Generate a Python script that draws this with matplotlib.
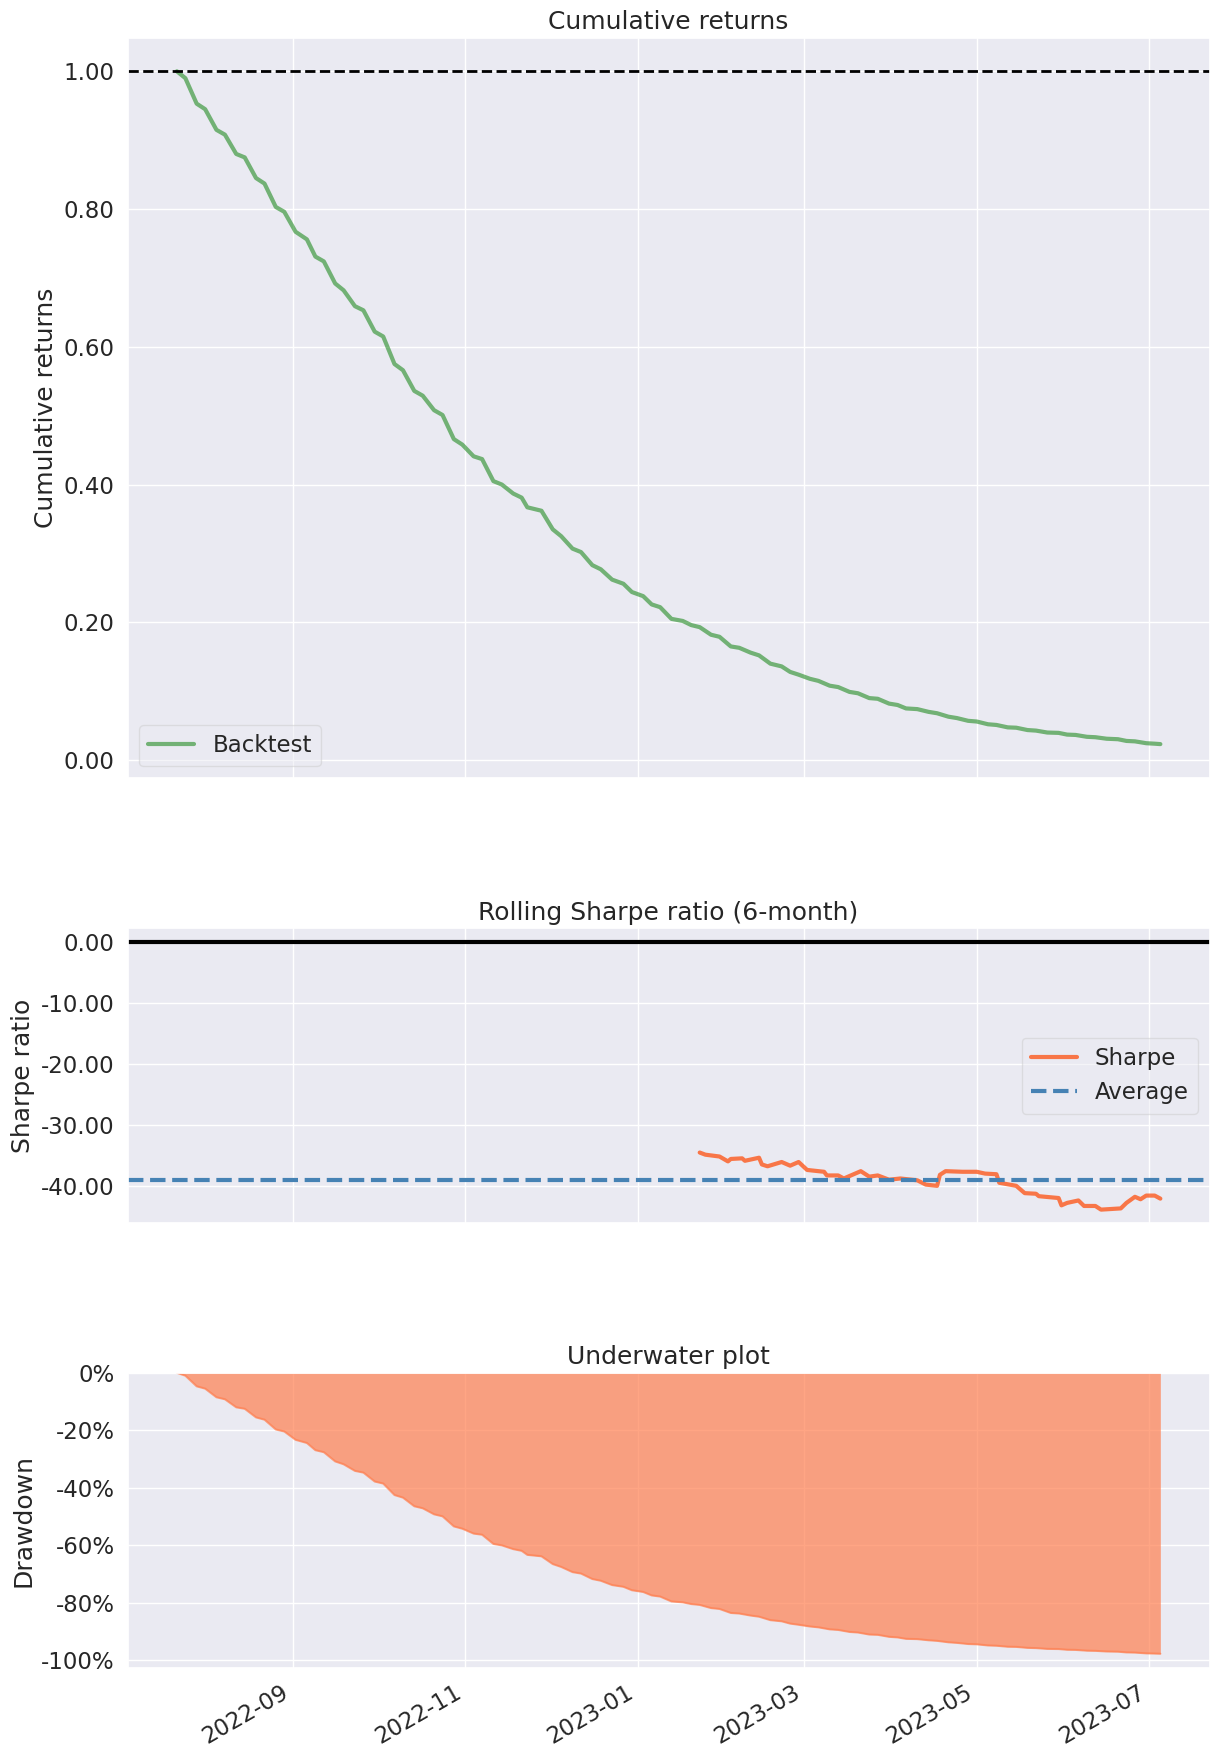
import matplotlib
matplotlib.use('Agg')
import matplotlib.pyplot as plt
import matplotlib.dates as mdates
from matplotlib.ticker import FuncFormatter
import numpy as np
import pandas as pd
import seaborn as sns

# ---------------- data ----------------
cum_dates = [
    "2022-07-22", "2022-07-25", "2022-07-29", "2022-08-01", "2022-08-05", "2022-08-08",
    "2022-08-12", "2022-08-15", "2022-08-19", "2022-08-22", "2022-08-26", "2022-08-29",
    "2022-09-02", "2022-09-06", "2022-09-09", "2022-09-12", "2022-09-16", "2022-09-19",
    "2022-09-23", "2022-09-26", "2022-09-30", "2022-10-03", "2022-10-07", "2022-10-10",
    "2022-10-14", "2022-10-17", "2022-10-21", "2022-10-24", "2022-10-28", "2022-10-31",
    "2022-11-04", "2022-11-07", "2022-11-11", "2022-11-14", "2022-11-18", "2022-11-21",
    "2022-11-23", "2022-11-25", "2022-11-28", "2022-12-02", "2022-12-05", "2022-12-09",
    "2022-12-12", "2022-12-16", "2022-12-19", "2022-12-23", "2022-12-27", "2022-12-30",
    "2023-01-03", "2023-01-06", "2023-01-09", "2023-01-13", "2023-01-17", "2023-01-20",
    "2023-01-23", "2023-01-27", "2023-01-30", "2023-02-03", "2023-02-06", "2023-02-10",
    "2023-02-13", "2023-02-17", "2023-02-21", "2023-02-24", "2023-02-27", "2023-03-03",
    "2023-03-06", "2023-03-10", "2023-03-13", "2023-03-17", "2023-03-20", "2023-03-24",
    "2023-03-27", "2023-03-31", "2023-04-03", "2023-04-06", "2023-04-10", "2023-04-14",
    "2023-04-17", "2023-04-21", "2023-04-24", "2023-04-28", "2023-05-01", "2023-05-05",
    "2023-05-08", "2023-05-12", "2023-05-15", "2023-05-19", "2023-05-22", "2023-05-26",
    "2023-05-30", "2023-06-02", "2023-06-05", "2023-06-09", "2023-06-12", "2023-06-16",
    "2023-06-20", "2023-06-23", "2023-06-26", "2023-06-30", "2023-07-03", "2023-07-05",
]
cum_values = [
    1.000, 0.990, 0.953, 0.945, 0.915, 0.908,
    0.880, 0.875, 0.845, 0.837, 0.803, 0.796,
    0.767, 0.756, 0.731, 0.724, 0.692, 0.682,
    0.659, 0.653, 0.622, 0.615, 0.575, 0.566,
    0.536, 0.529, 0.508, 0.501, 0.466, 0.458,
    0.441, 0.437, 0.405, 0.400, 0.387, 0.381,
    0.367, 0.365, 0.362, 0.335, 0.325, 0.307,
    0.302, 0.283, 0.277, 0.262, 0.256, 0.244,
    0.238, 0.226, 0.222, 0.205, 0.202, 0.196,
    0.193, 0.182, 0.179, 0.165, 0.163, 0.156,
    0.152, 0.140, 0.136, 0.128, 0.124, 0.118,
    0.115, 0.108, 0.106, 0.099, 0.097, 0.090,
    0.089, 0.082, 0.080, 0.075, 0.074, 0.070,
    0.068, 0.063, 0.061, 0.057, 0.056, 0.052,
    0.051, 0.0475, 0.047, 0.0436, 0.0428, 0.040,
    0.0395, 0.037, 0.0365, 0.0338, 0.0332, 0.031,
    0.0303, 0.0278, 0.0272, 0.0245, 0.0238, 0.0232,
]

sharpe_dates = [
    "2023-01-23", "2023-01-25", "2023-01-30", "2023-02-02", "2023-02-03", "2023-02-07",
    "2023-02-08", "2023-02-13", "2023-02-14", "2023-02-16", "2023-02-21", "2023-02-22",
    "2023-02-24", "2023-02-27", "2023-03-02", "2023-03-08", "2023-03-09", "2023-03-13",
    "2023-03-15", "2023-03-21", "2023-03-24", "2023-03-27", "2023-03-31", "2023-04-04",
    "2023-04-10", "2023-04-13", "2023-04-17", "2023-04-18", "2023-04-20", "2023-04-26",
    "2023-05-01", "2023-05-04", "2023-05-08", "2023-05-09", "2023-05-15", "2023-05-18",
    "2023-05-22", "2023-05-23", "2023-05-30", "2023-05-31", "2023-06-02", "2023-06-06",
    "2023-06-08", "2023-06-12", "2023-06-14", "2023-06-21", "2023-06-23", "2023-06-26",
    "2023-06-28", "2023-06-30", "2023-07-03", "2023-07-05",
]
sharpe_values = [
    -34.55, -34.9, -35.2, -36.0, -35.6, -35.5,
    -35.9, -35.4, -36.5, -36.8, -36.1, -36.3,
    -36.7, -36.1, -37.4, -37.7, -38.3, -38.3,
    -38.8, -37.6, -38.5, -38.3, -39.0, -38.8,
    -39.1, -39.8, -40.0, -38.2, -37.6, -37.7,
    -37.7, -38.0, -38.1, -39.5, -40.0, -41.2,
    -41.3, -41.7, -42.0, -43.2, -42.8, -42.4,
    -43.3, -43.3, -43.9, -43.7, -42.8, -41.8,
    -42.2, -41.6, -41.6, -42.1,
]
sharpe_average = -39.1

month_ticks = [1, 3, 5, 7, 9, 11]

# ---------------- style ----------------
sns.set_theme(style='darkgrid', context='notebook', font_scale=1.5)
plt.rcParams['font.family'] = ['DejaVu Sans']

cum_idx = pd.to_datetime(cum_dates)
cum = pd.Series(cum_values, index=cum_idx)
drawdown = (cum / cum.cummax() - 1.0) * 100.0
sh_idx = pd.to_datetime(sharpe_dates)
sharpe = pd.Series(sharpe_values, index=sh_idx)

fig = plt.figure(figsize=(12.21, 17.6), dpi=100)
L, W = 0.1046, 0.886
ax1 = fig.add_axes([L, 0.5581, W, 0.4205])
ax2 = fig.add_axes([L, 0.3051, W, 0.1675], sharex=ax1)
ax3 = fig.add_axes([L, 0.0524, W, 0.1676], sharex=ax1)

# Cumulative returns
ax1.plot(cum.index, cum.values, lw=3, color='forestgreen', alpha=0.6, label='Backtest')
ax1.axhline(1.0, linestyle='--', color='black', lw=2)
ax1.yaxis.set_major_formatter(FuncFormatter(lambda y, p: '%.2f' % y))
ax1.set_title('Cumulative returns')
ax1.set_ylabel('Cumulative returns')
ax1.legend(loc='lower left', frameon=True, framealpha=0.5)

# Rolling Sharpe
ax2.plot(sharpe.index, sharpe.values, color='orangered', alpha=0.7, lw=3, label='Sharpe')
ax2.axhline(sharpe_average, color='steelblue', linestyle='--', lw=3, label='Average')
ax2.axhline(0.0, color='black', linestyle='-', lw=3)
ax2.yaxis.set_major_formatter(FuncFormatter(lambda y, p: '%.2f' % y))
ax2.set_title('Rolling Sharpe ratio (6-month)')
ax2.set_ylabel('Sharpe ratio')
ax2.legend(loc='center right', frameon=True, framealpha=0.5)

# Underwater
ax3.plot(drawdown.index, drawdown.values, color='coral', alpha=0.7)
ax3.fill_between(drawdown.index, 0, drawdown.values, color='coral', alpha=0.7, lw=0)
ax3.set_ylim(None, 0)
ax3.yaxis.set_major_formatter(FuncFormatter(lambda y, p: '%.0f%%' % y))
ax3.set_title('Underwater plot')
ax3.set_ylabel('Drawdown')
ax3.set_xlabel('')

ax3.xaxis.set_major_locator(mdates.MonthLocator(bymonth=month_ticks))
ax3.xaxis.set_major_formatter(mdates.DateFormatter('%Y-%m'))
for lab in ax3.get_xticklabels():
    lab.set_rotation(30)
    lab.set_ha('right')
for ax in (ax1, ax2):
    plt.setp(ax.get_xticklabels(), visible=False)

fig.savefig('out.png', dpi=100)
